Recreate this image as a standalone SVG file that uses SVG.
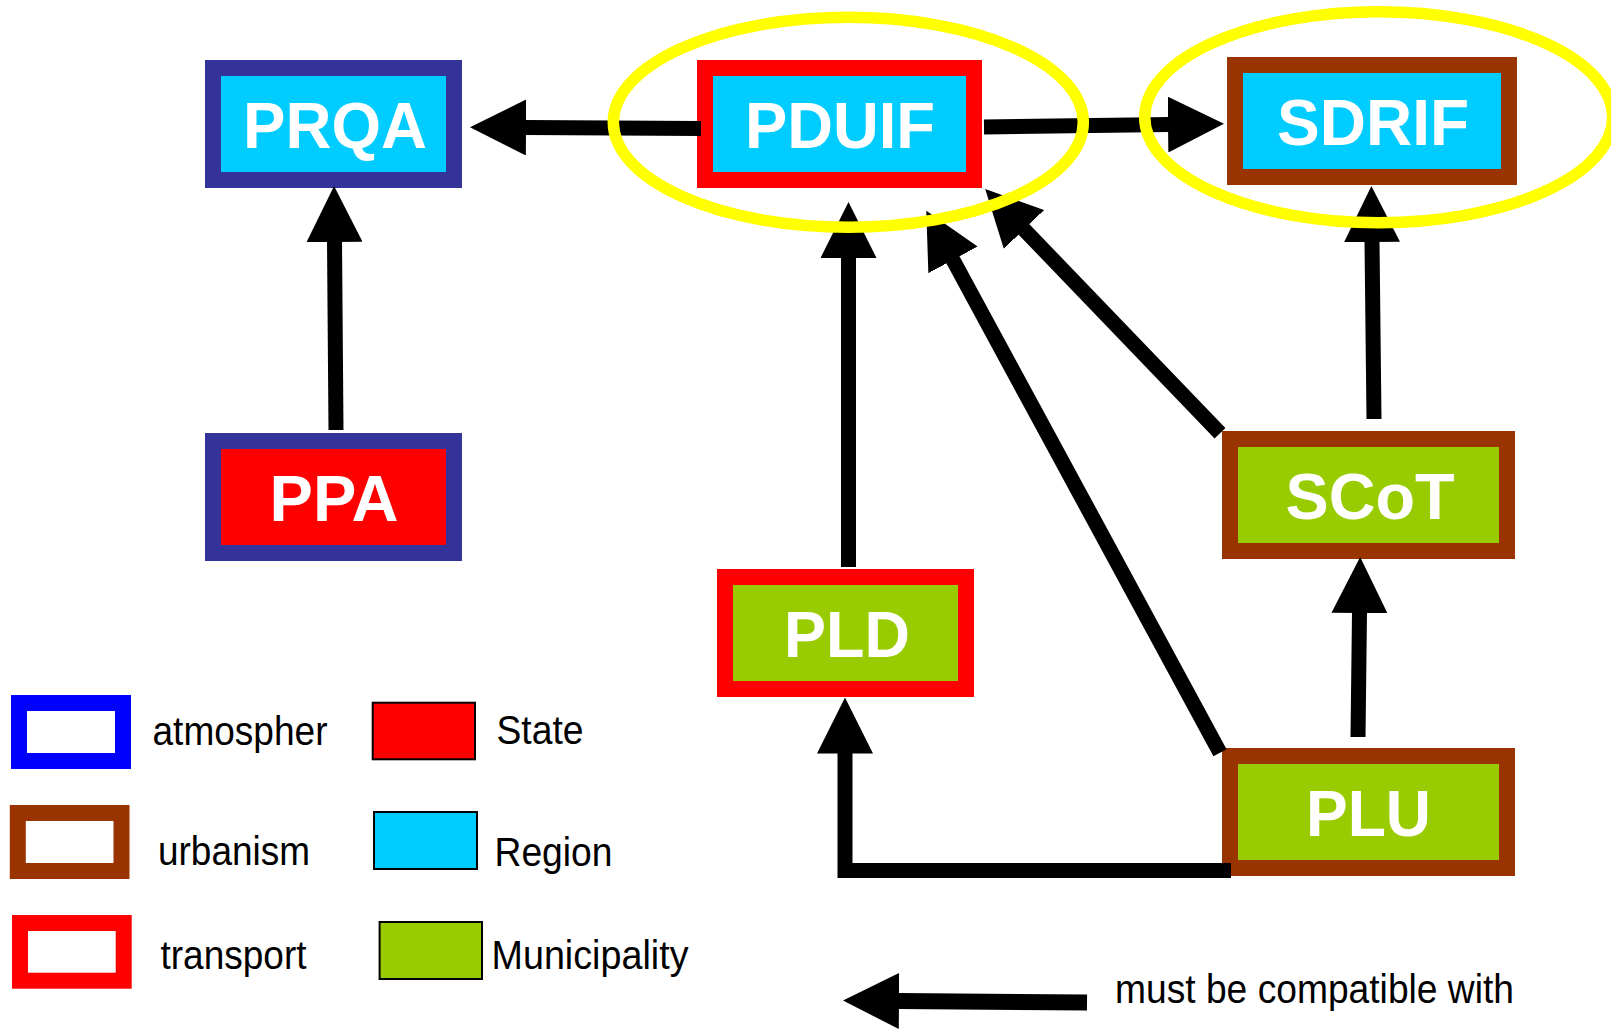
<svg xmlns="http://www.w3.org/2000/svg" width="1611" height="1029" viewBox="0 0 1611 1029">
<style>
.node rect{stroke-width:16}
.lbl{font-family:"Liberation Sans",Arial,sans-serif;font-weight:bold;font-size:65px;fill:#ffffff;text-anchor:middle}
.leg{font-family:"Liberation Sans",Arial,sans-serif;font-size:40px;fill:#000000}
.conn{fill:none;stroke:#000000;stroke-width:15;stroke-linecap:butt;stroke-linejoin:miter}
.hl{fill:none;stroke:#ffff00;stroke-width:11.5}
</style>
<defs>
<marker id="ah" markerUnits="userSpaceOnUse" markerWidth="56" markerHeight="56" viewBox="0 0 56 56" refX="1" refY="28" orient="auto">
<path d="M0,0 L56,28 L0,56 z" fill="#000000"/>
</marker>
</defs>
<rect width="1611" height="1029" fill="#ffffff"/>

<g id="PRQA" class="node"><rect x="213" y="68" width="241" height="112" fill="#00ccff" stroke="#333399"/><text class="lbl" x="335" y="148" textLength="184" lengthAdjust="spacingAndGlyphs">PRQA</text></g>
<g id="PDUIF" class="node"><rect x="705" y="68" width="269" height="112" fill="#00ccff" stroke="#ff0000"/><text class="lbl" x="840" y="147.5" textLength="190" lengthAdjust="spacingAndGlyphs">PDUIF</text></g>
<g id="SDRIF" class="node"><rect x="1235" y="65" width="274" height="112" fill="#00ccff" stroke="#993300"/><text class="lbl" x="1373" y="145" textLength="192" lengthAdjust="spacingAndGlyphs">SDRIF</text></g>
<g id="PPA" class="node"><rect x="213" y="441" width="241" height="112" fill="#ff0000" stroke="#333399"/><text class="lbl" x="334" y="521" textLength="129" lengthAdjust="spacingAndGlyphs">PPA</text></g>
<g id="PLD" class="node"><rect x="725" y="577" width="241" height="112" fill="#99cc00" stroke="#ff0000"/><text class="lbl" x="847" y="657" textLength="126" lengthAdjust="spacingAndGlyphs">PLD</text></g>
<g id="SCoT" class="node"><rect x="1230" y="439" width="277" height="112" fill="#99cc00" stroke="#993300"/><text class="lbl" x="1370" y="518.5" textLength="169" lengthAdjust="spacingAndGlyphs">SCoT</text></g>
<g id="PLU" class="node"><rect x="1230" y="756" width="277" height="112" fill="#99cc00" stroke="#993300"/><text class="lbl" x="1368.5" y="836" textLength="125" lengthAdjust="spacingAndGlyphs">PLU</text></g>

<g id="connectors">
<path class="conn" d="M701,128.5 L525,127.5" marker-end="url(#ah)"/>
<path class="conn" d="M984,127 L1169,124.5" marker-end="url(#ah)"/>
<path class="conn" d="M336,430 L334.5,241" marker-end="url(#ah)"/>
<path class="conn" d="M848.5,567 L848.5,257" marker-end="url(#ah)"/>
<path class="conn" d="M1220,752.7 L952.5,259" marker-end="url(#ah)"/>
<path class="conn" d="M1220,433.3 L1023.3,228.7" marker-end="url(#ah)"/>
<path class="conn" d="M1374,419 L1372,241" marker-end="url(#ah)"/>
<path class="conn" d="M1358,737 L1359.5,612" marker-end="url(#ah)"/>
<path class="conn" d="M1231,870.5 H845 V752.5" marker-end="url(#ah)"/>
</g>

<g id="highlights">
<ellipse class="hl" cx="848.3" cy="122.2" rx="235" ry="105"/>
<ellipse class="hl" cx="1378.7" cy="117.2" rx="234" ry="105.5"/>
</g>

<g id="legend">
<g id="leg-atmosphere"><rect x="19" y="703" width="104" height="58" fill="#ffffff" stroke="#0000ff" stroke-width="16"/><text class="leg" x="152.5" y="745" textLength="175" lengthAdjust="spacingAndGlyphs">atmospher</text></g>
<g id="leg-urbanism"><rect x="17.8" y="813" width="103.7" height="58" fill="#ffffff" stroke="#993300" stroke-width="16"/><text class="leg" x="158" y="864.5" textLength="152" lengthAdjust="spacingAndGlyphs">urbanism</text></g>
<g id="leg-transport"><rect x="20" y="923" width="103.7" height="57.7" fill="#ffffff" stroke="#ff0000" stroke-width="16"/><text class="leg" x="160.5" y="968.5" textLength="146" lengthAdjust="spacingAndGlyphs">transport</text></g>
<g id="leg-state"><rect x="372.7" y="702.7" width="102.3" height="56.6" fill="#ff0000" stroke="#000000" stroke-width="2"/><text class="leg" x="496.5" y="744" textLength="87" lengthAdjust="spacingAndGlyphs">State</text></g>
<g id="leg-region"><rect x="374" y="812" width="103" height="57" fill="#00ccff" stroke="#000000" stroke-width="2"/><text class="leg" x="494.5" y="866" textLength="118" lengthAdjust="spacingAndGlyphs">Region</text></g>
<g id="leg-municipality"><rect x="379.6" y="922" width="102.4" height="57" fill="#99cc00" stroke="#000000" stroke-width="2"/><text class="leg" x="491.5" y="969" textLength="197" lengthAdjust="spacingAndGlyphs">Municipality</text></g>
<g id="leg-arrow"><path class="conn" style="stroke-width:16" d="M1087,1002.5 L898,1001" marker-end="url(#ah)"/><text class="leg" x="1115" y="1003" textLength="399" lengthAdjust="spacingAndGlyphs">must be compatible with</text></g>
</g>
</svg>
